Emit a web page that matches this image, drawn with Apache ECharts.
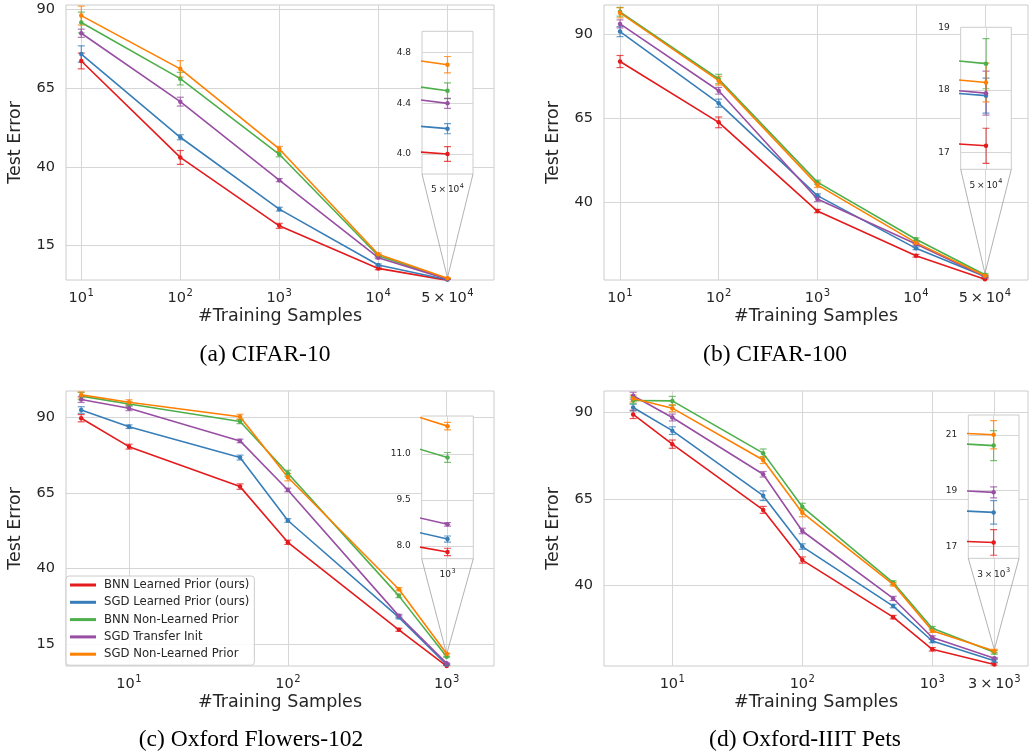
<!DOCTYPE html>
<html><head><meta charset="utf-8">
<script src="https://cdn.jsdelivr.net/npm/echarts@6/dist/echarts.min.js"></script>
<style>html,body{margin:0;padding:0;background:#fff}#c{width:1029px;height:755px}</style>
</head><body><div id="c"></div>
<script>
// ---------- data ----------
const seriesNames = ['BNN Learned Prior (ours)', 'SGD Learned Prior (ours)', 'BNN Non-Learned Prior', 'SGD Transfer Init', 'SGD Non-Learned Prior'];
const seriesColors = ['#e41a1c', '#377eb8', '#4daf4a', '#984ea3', '#ff7f00'];

// (a) CIFAR-10
const cifar10X = [10, 100, 1000, 10000, 50000];
const cifar10Mean = [
  [73.6, 43.0, 21.3, 7.8, 4.00],
  [75.8, 49.4, 26.6, 8.9, 4.20],
  [85.8, 68.0, 44.0, 11.8, 4.50],
  [82.4, 60.7, 35.8, 11.2, 4.40],
  [88.0, 71.1, 45.7, 12.3, 4.705]
];
const cifar10Err = [
  [2.5, 2.2, 0.8, 0.4, 0.058],
  [2.6, 0.8, 0.6, 0.3, 0.04],
  [3.3, 2.0, 0.8, 0.4, 0.062],
  [1.3, 1.4, 0.5, 0.3, 0.04],
  [3.0, 2.6, 0.8, 0.4, 0.065]
];
const cifar10XTicks = [10, 100, 1000, 10000, 50000];
const cifar10XLabels = ['10^1', '10^2', '10^3', '10^4', '5\u2009×\u200910^4'];
const cifar10YTicks = [15, 40, 65, 90];
const cifar10InsetYTicks = [4.0, 4.4, 4.8];
const cifar10InsetXLabel = '5\u2009×\u200910^4';

// (b) CIFAR-100
const cifar100X = [10, 100, 1000, 10000, 50000];
const cifar100Mean = [
  [81.9, 63.8, 37.4, 24.1, 17.11],
  [90.8, 69.5, 42.0, 26.3, 17.91],
  [96.7, 76.7, 46.0, 29.0, 18.42],
  [93.1, 73.2, 41.0, 27.6, 17.95],
  [96.4, 76.2, 45.2, 28.0, 18.12]
];
const cifar100Err = [
  [1.8, 1.6, 0.5, 0.4, 0.28],
  [1.5, 1.2, 0.5, 0.4, 0.28],
  [1.3, 1.4, 0.6, 0.4, 0.40],
  [1.2, 1.0, 0.8, 0.4, 0.35],
  [1.5, 1.3, 0.8, 0.4, 0.31]
];
const cifar100XTicks = [10, 100, 1000, 10000, 50000];
const cifar100XLabels = ['10^1', '10^2', '10^3', '10^4', '5\u2009×\u200910^4'];
const cifar100YTicks = [40, 65, 90];
const cifar100InsetYTicks = [17, 18, 19];
const cifar100InsetXLabel = '5\u2009×\u200910^4';

// (c) Oxford Flowers-102
const flowersX = [5, 10, 50, 100, 500, 1000];
const flowersMean = [
  [89.7, 80.3, 67.1, 48.7, 19.8, 7.81],
  [92.4, 86.9, 76.7, 55.9, 23.9, 8.23],
  [97.0, 94.4, 88.6, 71.5, 31.0, 10.89],
  [95.9, 93.0, 82.2, 66.0, 24.4, 8.71],
  [97.4, 95.0, 90.2, 70.2, 33.2, 11.91]
];
const flowersErr = [
  [1.2, 0.8, 0.9, 0.7, 0.5, 0.12],
  [1.1, 0.6, 0.8, 0.6, 0.5, 0.10],
  [1.2, 0.7, 0.7, 1.0, 0.6, 0.16],
  [1.0, 0.8, 0.6, 0.6, 0.5, 0.06],
  [1.0, 0.8, 0.8, 1.2, 0.5, 0.12]
];
const flowersXTicks = [10, 100, 1000];
const flowersXLabels = ['10^1', '10^2', '10^3'];
const flowersYTicks = [15, 40, 65, 90];
const flowersInsetYTicks = [8.0, 9.5, 11.0];
const flowersInsetXLabel = '10^3';

// (d) Oxford-IIIT Pets
const petsX = [5, 10, 50, 100, 500, 1000, 3000];
const petsMean = [
  [89.4, 80.8, 61.8, 47.3, 30.8, 21.5, 17.14],
  [91.4, 84.7, 65.9, 51.2, 34.0, 23.9, 18.22],
  [93.4, 93.3, 78.2, 62.7, 40.8, 27.6, 20.62],
  [94.8, 88.5, 72.1, 55.7, 36.2, 24.9, 18.94],
  [94.0, 91.2, 76.2, 61.0, 40.3, 26.9, 21.01]
];
const petsErr = [
  [1.2, 1.2, 1.0, 0.9, 0.5, 0.5, 0.46],
  [1.0, 1.1, 1.4, 0.8, 0.5, 0.5, 0.42],
  [1.0, 1.3, 1.2, 1.0, 0.5, 0.5, 0.54],
  [1.0, 1.0, 0.8, 0.8, 0.6, 0.5, 0.20],
  [1.0, 1.0, 1.0, 1.2, 0.5, 0.5, 0.51]
];
const petsXTicks = [10, 100, 1000, 3000];
const petsXLabels = ['10^1', '10^2', '10^3', '3\u2009×\u200910^3'];
const petsYTicks = [40, 65, 90];
const petsInsetYTicks = [17, 19, 21];
const petsInsetXLabel = '3\u2009×\u200910^3';

const captions = ['(a) CIFAR-10', '(b) CIFAR-100', '(c) Oxford Flowers-102', '(d) Oxford-IIIT Pets'];

// ---------- layout ----------
const panels = [
  {x: cifar10X, mean: cifar10Mean, err: cifar10Err, xTicks: cifar10XTicks, xLabels: cifar10XLabels, yTicks: cifar10YTicks,
   insetYTicks: cifar10InsetYTicks, insetDec: 1, insetXLabel: cifar10InsetXLabel,
   grid: {left: 66, top: 5, width: 428, height: 275}, xRange: [7.01, 147600], yRange: [4.12, 91.36],
   inset: {left: 422, top: 31.3, width: 51, height: 142.7}, insetX: [49850, 50150], insetY: [3.842, 4.969],
   cap: [265, 355]},
  {x: cifar100X, mean: cifar100Mean, err: cifar100Err, xTicks: cifar100XTicks, xLabels: cifar100XLabels, yTicks: cifar100YTicks,
   insetYTicks: cifar100InsetYTicks, insetDec: 0, insetXLabel: cifar100InsetXLabel,
   grid: {left: 604, top: 5, width: 424, height: 275}, xRange: [6.88, 136500], yRange: [16.88, 98.72],
   inset: {left: 960.7, top: 27.3, width: 50.6, height: 142}, insetX: [49850, 50150], insetY: [16.735, 19.0],
   cap: [775, 355]},
  {x: flowersX, mean: flowersMean, err: flowersErr, xTicks: flowersXTicks, xLabels: flowersXLabels, yTicks: flowersYTicks,
   insetYTicks: flowersInsetYTicks, insetDec: 1, insetXLabel: flowersInsetXLabel,
   grid: {left: 66, top: 391, width: 428, height: 275}, xRange: [4.012, 1986], yRange: [7.83, 98.69],
   inset: {left: 421.7, top: 416, width: 51.6, height: 142.7}, insetX: [993.8, 1006.2], insetY: [7.59, 12.24],
   cap: [251, 740]},
  {x: petsX, mean: petsMean, err: petsErr, xTicks: petsXTicks, xLabels: petsXLabels, yTicks: petsYTicks,
   insetYTicks: petsInsetYTicks, insetDec: 0, insetXLabel: petsInsetXLabel,
   grid: {left: 604, top: 391, width: 424, height: 275}, xRange: [2.983, 5447], yRange: [16.68, 96.16],
   inset: {left: 968.3, top: 415, width: 50.7, height: 143.3}, insetX: [2985, 3015], insetY: [16.57, 21.72],
   cap: [805, 740]}
];

const TEXT = '#262626';
const GRIDC = '#d6d6d6';
const BORDER = '#cccccc';
const FONT = 'DejaVu Sans';

// '10^3' -> rich text base + superscript
function supLabel(s) {
  const parts = s.split('^');
  return parts.length > 1 ? '{b|' + parts[0] + '}{s|' + parts[1] + '}' : '{b|' + s + '}';
}
function richSup(base, sup, raise) {
  return {
    b: {fontSize: base, color: TEXT, fontFamily: FONT, verticalAlign: 'bottom'},
    s: {fontSize: sup, color: TEXT, fontFamily: FONT, verticalAlign: 'bottom', padding: [0, 0, raise, 0.5]}
  };
}

function errRender(color) {
  return function (params, api) {
    const x = api.value(0), y = api.value(1), e = api.value(2);
    const t = api.coord([x, y + e]);
    const b = api.coord([x, y - e]);
    const hw = 3.5;
    const st = {stroke: color, lineWidth: 1.2, opacity: 0.75};
    return {type: 'group', children: [
      {type: 'line', shape: {x1: t[0], y1: t[1], x2: b[0], y2: b[1]}, style: st},
      {type: 'line', shape: {x1: t[0] - hw, y1: t[1], x2: t[0] + hw, y2: t[1]}, style: st},
      {type: 'line', shape: {x1: b[0] - hw, y1: b[1], x2: b[0] + hw, y2: b[1]}, style: st}
    ]};
  };
}

const grids = [], xAxes = [], yAxes = [], series = [], graphics = [];

panels.forEach((p, pi) => {
  const gi = grids.length;
  grids.push({left: p.grid.left, top: p.grid.top, width: p.grid.width, height: p.grid.height,
    show: true, borderColor: BORDER, borderWidth: 1, backgroundColor: '#fff', z: 0});
  xAxes.push({gridIndex: gi, type: 'log', logBase: 10, min: p.xRange[0], max: p.xRange[1], z: 0,
    axisLine: {show: false}, axisTick: {show: false, customValues: p.xTicks},
    axisLabel: {customValues: p.xTicks, margin: 8, rich: richSup(14.5, 10, 8),
      formatter: function (v) {
        let best = 0, bd = Infinity;
        p.xTicks.forEach((t, k) => { const d = Math.abs(Math.log(v / t)); if (d < bd) { bd = d; best = k; } });
        return supLabel(p.xLabels[best]);
      }},
    splitLine: {show: true, lineStyle: {color: GRIDC, width: 1}},
    name: '#Training Samples', nameLocation: 'middle', nameGap: 27,
    nameTextStyle: {fontSize: 17.5, color: TEXT, fontFamily: FONT}});
  yAxes.push({gridIndex: gi, type: 'value', min: p.yRange[0], max: p.yRange[1], z: 0,
    axisLine: {show: false}, axisTick: {show: false, customValues: p.yTicks},
    axisLabel: {customValues: p.yTicks, fontSize: 14.5, color: TEXT, margin: 11, fontFamily: FONT},
    splitLine: {show: true, lineStyle: {color: GRIDC, width: 1}},
    name: 'Test Error', nameLocation: 'middle', nameGap: 42, nameRotate: 90,
    nameTextStyle: {fontSize: 17.5, color: TEXT, fontFamily: FONT}});

  const ii = grids.length;
  const last = p.x[p.x.length - 1];
  grids.push({left: p.inset.left, top: p.inset.top, width: p.inset.width, height: p.inset.height,
    show: true, borderColor: BORDER, borderWidth: 1, backgroundColor: '#fff', z: 1});
  xAxes.push({gridIndex: ii, type: 'value', min: p.insetX[0], max: p.insetX[1], z: 1,
    axisLine: {show: false}, axisTick: {show: false, customValues: [last]},
    axisLabel: {customValues: [last], margin: 9, rich: richSup(9, 6.5, 4.5),
      formatter: () => supLabel(p.insetXLabel)},
    splitLine: {show: true, lineStyle: {color: GRIDC, width: 1}}});
  yAxes.push({gridIndex: ii, type: 'value', min: p.insetY[0], max: p.insetY[1], z: 1,
    axisLine: {show: false}, axisTick: {show: false, customValues: p.insetYTicks},
    axisLabel: {customValues: p.insetYTicks, fontSize: 9, color: TEXT, margin: 11, fontFamily: FONT,
      formatter: v => Number(v).toFixed(p.insetDec)},
    splitLine: {show: true, lineStyle: {color: GRIDC, width: 1}}});

  // connectors from inset to zoom region
  series.push({type: 'custom', xAxisIndex: gi, yAxisIndex: gi, silent: true, z: 1, animation: false,
    encode: {x: [0, 1], y: 2},
    data: [[p.insetX[0], p.insetX[1], p.insetY[1]]],
    renderItem: function (params, api) {
      const a = api.coord([api.value(0), api.value(2)]);
      const b = api.coord([api.value(1), api.value(2)]);
      const L = p.inset.left, R = p.inset.left + p.inset.width, B = p.inset.top + p.inset.height;
      const st = {stroke: '#9e9e9e', lineWidth: 0.8};
      return {type: 'group', children: [
        {type: 'line', shape: {x1: L, y1: B, x2: a[0], y2: a[1]}, style: st},
        {type: 'line', shape: {x1: R, y1: B, x2: b[0], y2: b[1]}, style: st}
      ]};
    }});

  [gi, ii].forEach((ax, which) => {
    for (let s = 0; s < 5; s++) {
      series.push({type: 'line', name: seriesNames[s], xAxisIndex: ax, yAxisIndex: ax,
        data: p.x.map((xv, k) => [xv, p.mean[s][k]]),
        color: seriesColors[s], lineStyle: {width: 1.6, color: seriesColors[s]},
        itemStyle: {color: seriesColors[s]},
        symbol: 'circle', symbolSize: 4.5, showSymbol: true, clip: true,
        z: which ? 3 : 2, animation: false, silent: true});
      series.push({type: 'custom', name: seriesNames[s] + ' err', xAxisIndex: ax, yAxisIndex: ax,
        data: p.x.map((xv, k) => [xv, p.mean[s][k], p.err[s][k]]),
        encode: {x: 0, y: 1}, clip: true,
        renderItem: errRender(seriesColors[s]),
        z: which ? 3 : 2, animation: false, silent: true});
    }
  });

  graphics.push({type: 'text', x: p.cap[0], y: p.cap[1],
    style: {text: captions[pi], font: '23.5px "Liberation Serif"', fill: '#000', align: 'center', verticalAlign: 'middle'}});
});

const chart = echarts.init(document.getElementById('c'), null, {renderer: 'canvas'});
chart.setOption({
  animation: false,
  backgroundColor: '#fff',
  textStyle: {fontFamily: FONT},
  grid: grids, xAxis: xAxes, yAxis: yAxes, series: series,
  legend: {data: seriesNames, left: 66, top: 576, orient: 'vertical', icon: 'rect',
    itemWidth: 26, itemHeight: 3, itemGap: 3.3, padding: [2, 5, 4, 4],
    backgroundColor: 'rgba(255,255,255,0.85)', borderColor: BORDER, borderWidth: 1, borderRadius: 3,
    selectedMode: false, z: 5,
    textStyle: {fontSize: 11.7, color: TEXT, fontFamily: FONT, lineHeight: 14, padding: [0, 0, 0, 3]}},
  graphic: graphics
});
</script></body></html>
